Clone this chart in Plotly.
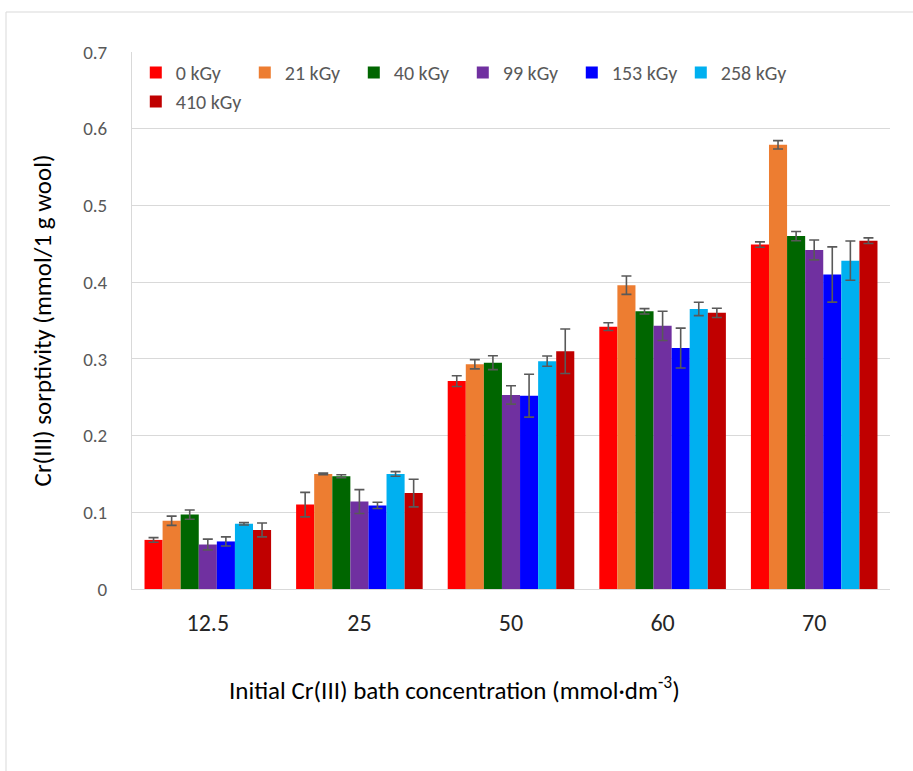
import plotly.graph_objects as go

categories = ["12.5", "25", "50", "60", "70"]
series_names = ["0 kGy", "21 kGy", "40 kGy", "99 kGy", "153 kGy", "258 kGy", "410 kGy"]
colors = ["#FF0000", "#ED7D31", "#006600", "#7030A0", "#0000FF", "#00B0F0", "#C00000"]

v_0 = [0.064, 0.110, 0.271, 0.342, 0.449]
v_21 = [0.089, 0.150, 0.293, 0.396, 0.579]
v_40 = [0.097, 0.147, 0.295, 0.362, 0.460]
v_99 = [0.058, 0.114, 0.253, 0.343, 0.442]
v_153 = [0.062, 0.109, 0.252, 0.314, 0.410]
v_258 = [0.085, 0.150, 0.297, 0.365, 0.428]
v_410 = [0.077, 0.125, 0.310, 0.360, 0.454]

e_0 = [0.003, 0.016, 0.007, 0.005, 0.0035]
e_21 = [0.006, 0.001, 0.006, 0.012, 0.0055]
e_40 = [0.006, 0.002, 0.009, 0.0035, 0.006]
e_99 = [0.007, 0.0155, 0.012, 0.019, 0.013]
e_153 = [0.006, 0.004, 0.028, 0.026, 0.036]
e_258 = [0.0015, 0.003, 0.0067, 0.0087, 0.0256]
e_410 = [0.009, 0.018, 0.029, 0.006, 0.0037]

values = [v_0, v_21, v_40, v_99, v_153, v_258, v_410]
errors = [e_0, e_21, e_40, e_99, e_153, e_258, e_410]

FONT = "Carlito, Calibri, Lato, sans-serif"

fig = go.Figure()
for name, col, v, e in zip(series_names, colors, values, errors):
    fig.add_trace(go.Bar(
        x=categories, y=v, name=name,
        marker=dict(color=col, line=dict(width=0)),
        error_y=dict(type="data", array=e, visible=True, color="#595959",
                     thickness=1.6, width=5),
    ))

fig.update_layout(
    width=913, height=771,
    margin=dict(l=132, r=23, t=52, b=182),
    paper_bgcolor="white", plot_bgcolor="white",
    barmode="group", bargap=0.165, bargroupgap=0,
    font=dict(family=FONT, size=20, color="#595959"),
    showlegend=True,
    legend=dict(orientation="h", x=0.005, xanchor="left", y=0.935, yanchor="middle",
                font=dict(family=FONT, size=20, color="#595959"),
                itemwidth=30, entrywidth=64, entrywidthmode="pixels",
                traceorder="normal", bgcolor="rgba(0,0,0,0)"),
    xaxis=dict(type="category", showgrid=False, showline=True, linecolor="#D9D9D9",
               linewidth=1, ticks="", tickfont=dict(family=FONT, size=24, color="#262626"),
               ticklabelstandoff=12),
    yaxis=dict(range=[0, 0.7], dtick=0.1, tickformat="~g", showgrid=True,
               gridcolor="#D9D9D9", gridwidth=1, showline=True, linecolor="#D9D9D9",
               zeroline=False, ticks="", ticklabelstandoff=20,
               tickfont=dict(family=FONT, size=19, color="#595959"),
               title=dict(text="Cr(III) sorptivity (mmol/1 g wool)",
                          font=dict(family=FONT, size=25, color="#000000"), standoff=24)),
    shapes=[dict(type="rect", xref="paper", yref="paper",
                 x0=(6 - 132) / 758, x1=1.2, y0=-0.5, y1=(589 - 12) / 537,
                 line=dict(color="#D9D9D9", width=1), fillcolor="rgba(0,0,0,0)", layer="below")],
    annotations=[dict(text="Initial Cr(III) bath concentration (mmol·dm<sup>-3</sup>)",
                      xref="paper", yref="paper", x=(454 - 132) / 758, y=(589 - 688) / 537,
                      xanchor="center", yanchor="middle", showarrow=False,
                      font=dict(family=FONT, size=25, color="#000000"))],
)

fig.write_html("out.html")
